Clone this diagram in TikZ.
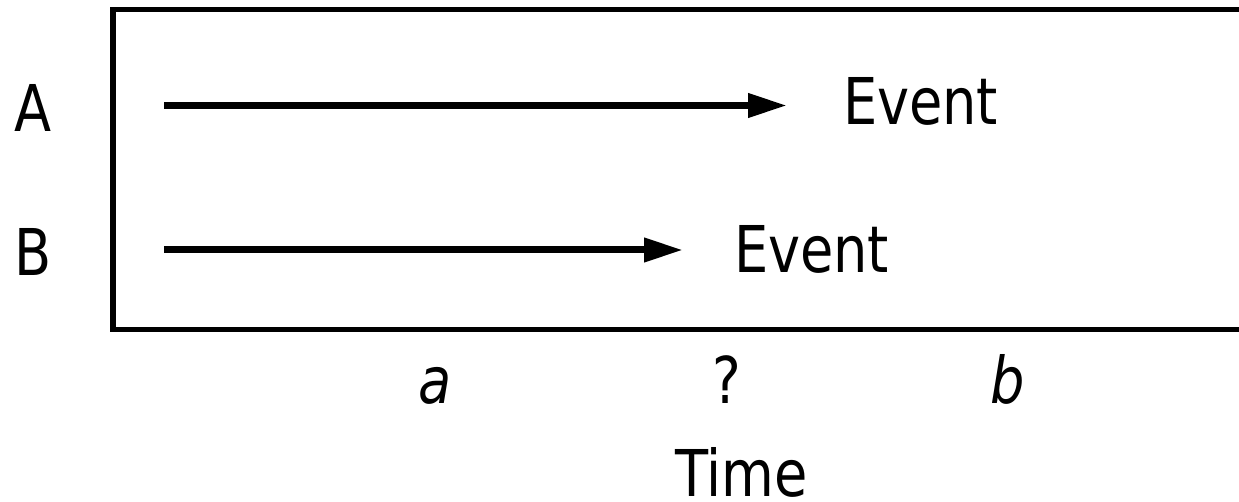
\documentclass[tikz,border=0pt]{standalone}
\usepackage{fontspec}
\setmainfont{DejaVu Sans}[FakeStretch=0.84]
\usetikzlibrary{arrows.meta}
\tikzset{
  lbl/.style={inner sep=0pt, outer sep=0pt, font=\fontsize{64.5}{70}\selectfont},
  evarrow/.style={line width=7pt, -{Triangle[length=39pt,width=23pt]}},
  frame/.style={line width=5.5pt}
}
\begin{document}
\begin{tikzpicture}[x=1pt,y=-1pt]
\useasboundingbox (0,0) rectangle (1239,502);
\draw[frame] (113,9.5) rectangle (1250,329.5);
\coordinate (a1) at (164,105.5);
\coordinate (a2) at (787,105.5);
\coordinate (b1) at (164,250);
\coordinate (b2) at (683,250);
\draw[evarrow] (a1) -- (a2);
\draw[evarrow] (b1) -- (b2);
\node[lbl, anchor=base west] (labA) at (14,132) {A};
\node[lbl, anchor=base west] (labB) at (14,276) {B};
\node[lbl, anchor=base west] (evA) at (843,125) {Event};
\node[lbl, anchor=base west] (evB) at (734,273) {Event};
\node[lbl, anchor=base] (ta) at (435,403) {\itshape a};
\node[lbl, anchor=base] (tq) at (727,403) {?};
\node[lbl, anchor=base] (tb) at (1008,403) {\itshape b};
\node[lbl, anchor=base west] (time) at (675,496) {Time};
\end{tikzpicture}
\end{document}
